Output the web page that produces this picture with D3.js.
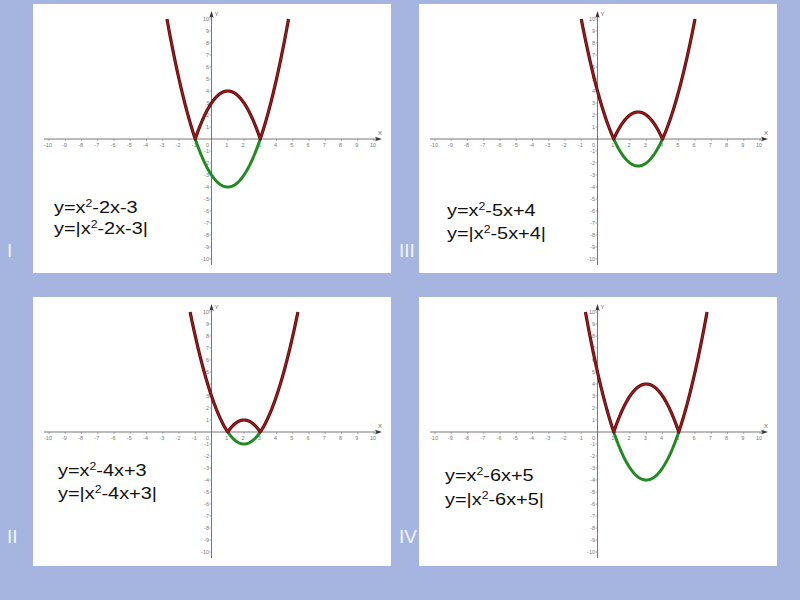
<!DOCTYPE html>
<html>
<head>
<meta charset="utf-8">
<script src="https://cdn.jsdelivr.net/npm/d3@7"></script>
<style>
  body { margin: 0; background: #a5b5df; }
  svg { display: block; }
</style>
</head>
<body>
<svg id="chart"></svg>
<script>
var width = 800, height = 600

// data: one panel per quadratic y = x^2 + b x + c
var panelNames = ["I", "III", "II", "IV"]
var coefB = [-2, -5, -4, -6]
var coefC = [-3, 4, 3, 5]
var eqTails = ["-2x-3", "-5x+4", "-4x+3", "-6x+5"]
var tickValues = [-10, -9, -8, -7, -6, -5, -4, -3, -2, -1, 1, 2, 3, 4, 5, 6, 7, 8, 9, 10]

// layout
var panelX = [33, 419, 33, 419], panelY = [4, 4, 297, 297]
var panelW = 358, panelH = 269
var eqX = [54, 447, 58, 445], eqY1 = [213, 216, 476, 481], eqY2 = [234, 239, 499, 505]
var romanX = [7, 399, 7, 399], romanY = [257, 257, 543, 543]

var svg = d3.select("#chart")
    .attr("width", width)
    .attr("height", height)

svg.append("rect")
    .attr("width", width)
    .attr("height", height)
    .attr("fill", "#a5b5df")

var x = d3.scaleLinear().domain([-10, 10]).range([16, 341])
var y = d3.scaleLinear().domain([-10, 10]).range([255, 15])

var line = d3.line()
    .x(d => x(d[0]))
    .y(d => y(d[1]))

panelNames.forEach(function (name, i) {
    var g = svg.append("g")
        .attr("transform", "translate(" + panelX[i] + "," + panelY[i] + ")")

    g.append("rect")
        .attr("width", panelW)
        .attr("height", panelH)
        .attr("fill", "#fff")

    var ox = x(0), oy = y(0)

    // axes
    g.append("line")
        .attr("x1", 11).attr("x2", 344)
        .attr("y1", oy).attr("y2", oy)
        .attr("stroke", "#555").attr("stroke-width", 0.8)
    g.append("path")
        .attr("d", "M349," + oy + "L342," + (oy - 2.2) + "L343.5," + oy + "L342," + (oy + 2.2) + "Z")
        .attr("fill", "#333")
    g.append("line")
        .attr("x1", ox).attr("x2", ox)
        .attr("y1", 261).attr("y2", 12)
        .attr("stroke", "#555").attr("stroke-width", 0.8)
    g.append("path")
        .attr("d", "M" + ox + ",7L" + (ox - 2.2) + ",14L" + ox + ",12.5L" + (ox + 2.2) + ",14Z")
        .attr("fill", "#333")

    g.append("text")
        .attr("x", 345).attr("y", oy - 4)
        .attr("font-family", "Liberation Sans, Arial, sans-serif")
        .attr("font-size", 6).attr("fill", "#666")
        .text("X")
    g.append("text")
        .attr("x", ox + 3).attr("y", 12)
        .attr("font-family", "Liberation Sans, Arial, sans-serif")
        .attr("font-size", 6).attr("fill", "#666")
        .text("Y")

    var tk = g.append("g")
        .attr("font-family", "Liberation Sans, Arial, sans-serif")
        .attr("font-size", 5.5)
        .attr("fill", "#777")

    tk.selectAll(".xt")
        .data(tickValues)
        .enter()
        .append("line")
        .attr("x1", d => x(d)).attr("x2", d => x(d))
        .attr("y1", oy).attr("y2", oy + 2)
        .attr("stroke", "#777").attr("stroke-width", 0.6)
    tk.selectAll(".xl")
        .data(tickValues)
        .enter()
        .append("text")
        .attr("x", d => x(d) - 1)
        .attr("y", oy + 8)
        .attr("text-anchor", "middle")
        .text(d => d)
    tk.selectAll(".yt")
        .data(tickValues)
        .enter()
        .append("line")
        .attr("x1", ox - 2).attr("x2", ox)
        .attr("y1", d => y(d)).attr("y2", d => y(d))
        .attr("stroke", "#777").attr("stroke-width", 0.6)
    tk.selectAll(".yl")
        .data(tickValues)
        .enter()
        .append("text")
        .attr("x", ox - 2.5)
        .attr("y", d => y(d) + 2)
        .attr("text-anchor", "end")
        .text(d => d)
    tk.append("text")
        .attr("x", ox - 2.5).attr("y", oy + 8)
        .attr("text-anchor", "end")
        .text("0")

    // curves
    var b = coefB[i], c = coefC[i]
    var f = t => t * t + b * t + c
    var disc = Math.sqrt(b * b - 4 * (c - 10))
    var xl = (-b - disc) / 2, xr = (-b + disc) / 2
    var r1 = (-b - Math.sqrt(b * b - 4 * c)) / 2, r2 = (-b + Math.sqrt(b * b - 4 * c)) / 2

    var green = d3.range(0, 101).map(k => { var t = r1 + (r2 - r1) * k / 100; return [t, f(t)] })
    var red = d3.range(0, 401).map(k => { var t = xl + (xr - xl) * k / 400; return [t, Math.abs(f(t))] })

    g.append("path")
        .attr("d", line(green))
        .attr("fill", "none")
        .attr("stroke", "#238a23")
        .attr("stroke-width", 3)
        .attr("stroke-linejoin", "round")
    g.append("path")
        .attr("d", line(red))
        .attr("fill", "none")
        .attr("stroke", "#5e0a0a")
        .attr("stroke-width", 3.2)
        .attr("stroke-linejoin", "round")
    g.append("path")
        .attr("d", line(red))
        .attr("fill", "none")
        .attr("stroke", "#9a1c1c")
        .attr("stroke-width", 1.5)
        .attr("stroke-linejoin", "round")
})

// equation labels
function eqLabel(xp, yp, pre, tail) {
    var t = svg.append("text")
        .attr("transform", "translate(" + xp + "," + yp + ") scale(1.17,1)")
        .attr("font-family", "Liberation Sans, Arial, sans-serif")
        .attr("font-size", 17)
        .attr("fill", "#111")
    t.append("tspan").text(pre)
    t.append("tspan").attr("font-size", 10.5).attr("dy", -6).text("2")
    t.append("tspan").attr("dy", 6).text(tail)
}

panelNames.forEach(function (name, i) {
    eqLabel(eqX[i], eqY1[i], "y=x", eqTails[i])
    eqLabel(eqX[i], eqY2[i], "y=|x", eqTails[i] + "|")

    svg.append("text")
        .attr("x", romanX[i]).attr("y", romanY[i])
        .attr("font-family", "Liberation Sans, Arial, sans-serif")
        .attr("font-size", 19)
        .attr("fill", "#f2f4fb")
        .text(name)
})
</script>
</body>
</html>
